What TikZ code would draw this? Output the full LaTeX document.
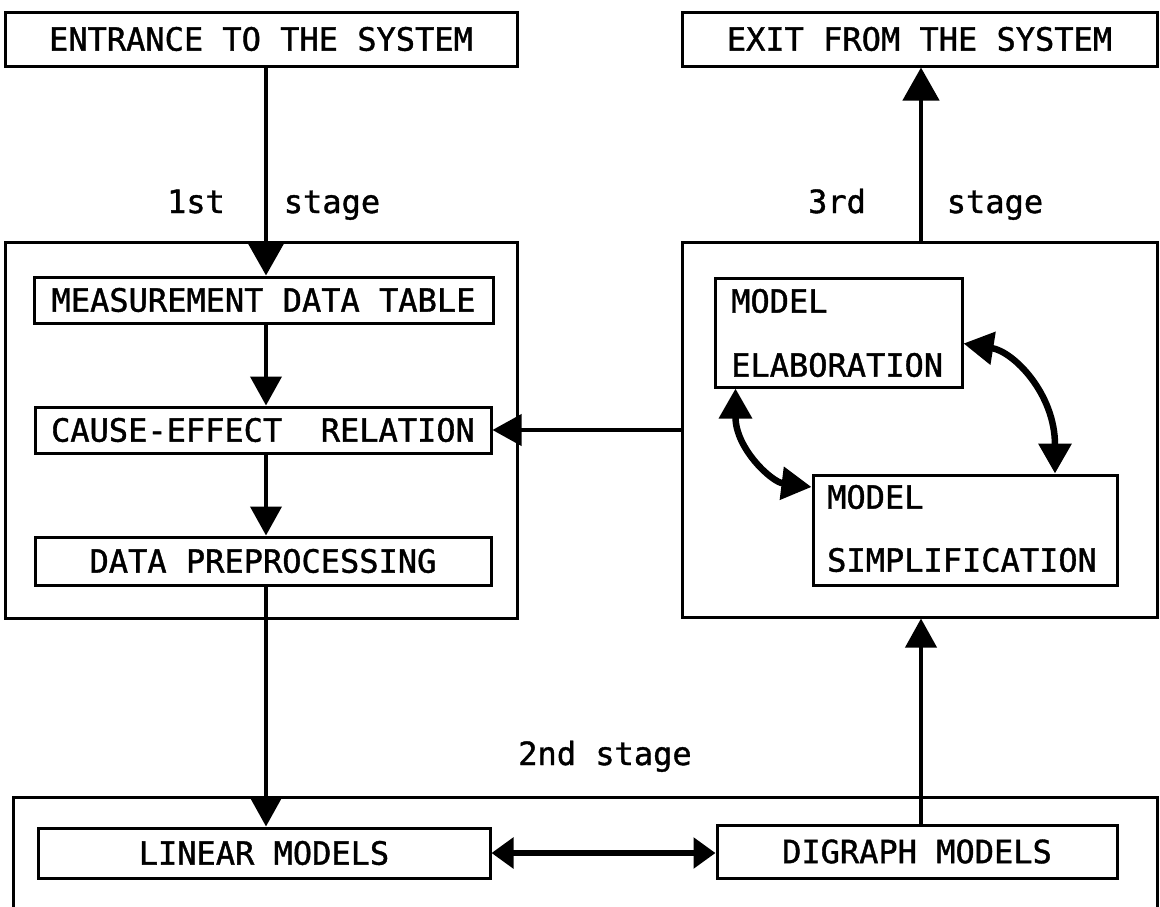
\documentclass[tikz,border=0pt]{standalone}
\usepackage{fontspec}
\setmonofont[FakeBold=1.2]{DejaVu Sans Mono}
\usetikzlibrary{arrows.meta,calc}
\begin{document}
\begin{tikzpicture}[x=1pt,y=-1pt,
  txt/.style={font=\fontsize{32}{38}\selectfont\ttfamily},
  box/.style={draw,line width=3pt,inner sep=0pt,txt},
  lbl/.style={inner sep=0pt,txt,anchor=base},
  flow/.style={line width=4.5pt,-{Triangle[length=33pt,width=36pt]}},
  flowthin/.style={line width=4pt,-{Triangle[length=29pt,width=31pt]}},
  dbl/.style={line width=6pt,{Triangle[length=22pt,width=30pt]}-{Triangle[length=22pt,width=30pt]}},
  curv/.style={line width=6.5pt,{Triangle[length=30pt,width=32pt]}-{Triangle[length=30pt,width=32pt]}}]
\useasboundingbox (0,0) rectangle (1160,906);
\coordinate (colL) at (266,0);
\coordinate (colR) at (921,0);
% top boxes
\node[box,minimum width=512,minimum height=54] (entr) at (261,39) {ENTRANCE TO THE SYSTEM};
\node[box,minimum width=475,minimum height=54] (exit) at (919.5,39) {EXIT FROM THE SYSTEM};
% stage frames
\node[box,minimum width=512,minimum height=376] (lbig) at (261,430) {};
\node[box,minimum width=475,minimum height=375] (rbig) at (919.5,429.5) {};
% first stage
\node[box,fill=white,minimum width=459,minimum height=46] (meas) at (263.5,300) {MEASUREMENT DATA TABLE};
\node[box,fill=white,minimum width=456,minimum height=46] (cause) at (263,430) {CAUSE-EFFECT\ \ RELATION};
\node[box,fill=white,minimum width=456,minimum height=48] (prep) at (263,561) {DATA PREPROCESSING};
% third stage
\node[box,minimum width=247,minimum height=109] (elab) at (838.5,332.5) {};
\node[lbl,anchor=west] (elab1) at (731,301) {MODEL};
\node[lbl,anchor=west] (elab2) at (731,365) {ELABORATION};
\node[box,minimum width=304,minimum height=110] (simp) at (965,530) {};
\node[lbl,anchor=west] (simp1) at (827,497) {MODEL};
\node[lbl,anchor=west] (simp2) at (827,560) {SIMPLIFICATION};
% second stage frame (open at bottom)
\draw[line width=3pt] (13,912) |- (1157,797) -- (1157,912);
\node[box,minimum width=452,minimum height=50] (lin) at (264,853) {LINEAR MODELS};
\node[box,minimum width=400,minimum height=53] (dig) at (917,851.5) {DIGRAPH MODELS};
% stage labels
\node[lbl] (s1a) at (196,213) {1st};
\node[lbl] (s1b) at (332,213) {stage};
\node[lbl] (s3a) at (837,213) {3rd};
\node[lbl] (s3b) at (995,213) {stage};
\node[lbl] (s2) at (605,765) {2nd stage};
% connectors
\draw[flow] (entr.south -| colL) -- (meas.north -| colL);
\draw[flowthin] (meas.south -| colL) -- (cause.north -| colL);
\draw[flowthin] (cause.south -| colL) -- (prep.north -| colL);
\draw[flowthin] (rbig.west |- cause.east) -- (cause.east);
\draw[flowthin] (prep.south -| colL) -- (lin.north -| colL);
\draw[flowthin] (dig.north -| colR) -- (rbig.south -| colR);
\draw[flow] (rbig.north -| colR) -- (exit.south -| colR);
\draw[dbl] (lin.east) -- (dig.west |- lin.east);
\draw[curv] ($(elab.east)+(0,11)$) .. controls +(50,8) and +(0,-80) .. ($(simp.north)+(90,0)$);
\draw[curv] ($(elab.south west)+(22,0)$) .. controls +(0,60) and +(-40,-5) .. ($(simp.west)+(0,-43)$);
\end{tikzpicture}
\end{document}
